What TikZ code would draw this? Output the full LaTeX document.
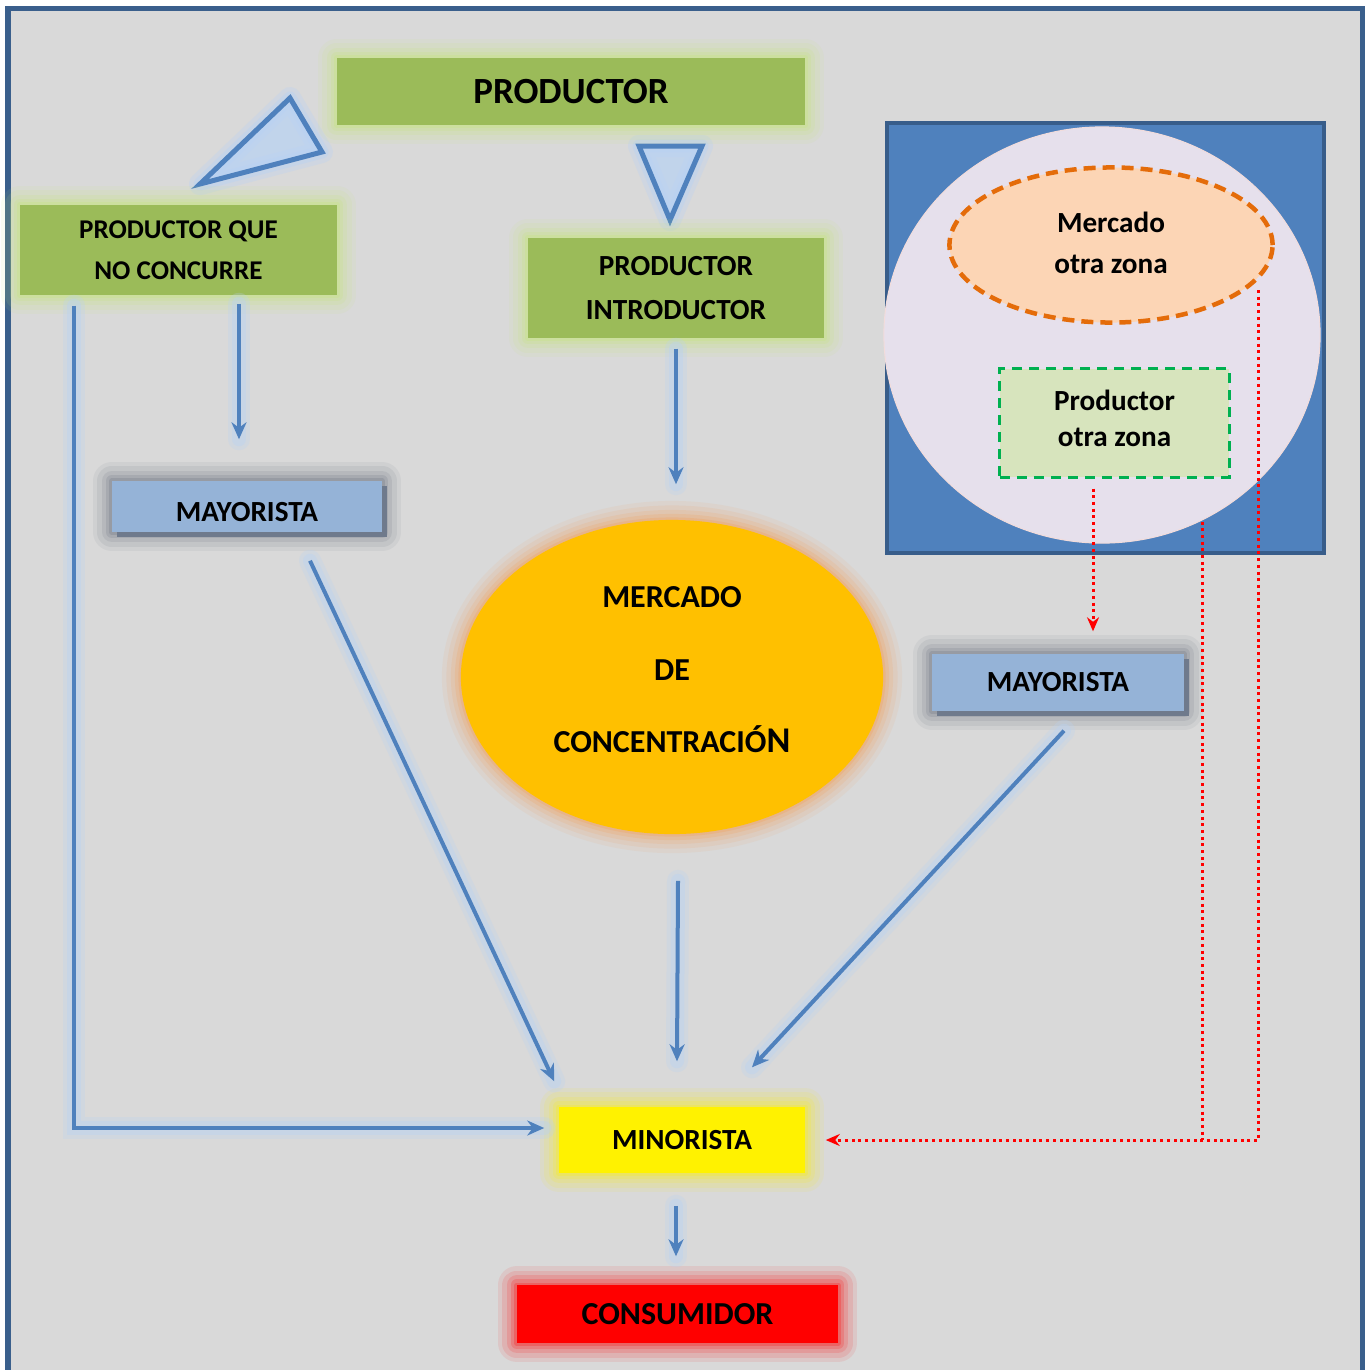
\documentclass[tikz,border=0pt]{standalone}
\usepackage{fontspec}
\setmainfont{Carlito}
\usetikzlibrary{arrows.meta,shapes.geometric,shadows}
\definecolor{bgc}{HTML}{D9D9D9}
\definecolor{framec}{HTML}{3A5F8C}
\definecolor{gfill}{HTML}{9BBB59}
\definecolor{gglow}{HTML}{C5E76F}
\definecolor{ablue}{HTML}{4F81BD}
\definecolor{bglow}{HTML}{B8D2F4}
\definecolor{mfill}{HTML}{95B3D7}
\definecolor{mshadow}{HTML}{6F7A8C}
\definecolor{mglow}{HTML}{5F6878}
\definecolor{ofill}{HTML}{FFC000}
\definecolor{oglow}{HTML}{F79646}
\definecolor{lav}{HTML}{E6E0EC}
\definecolor{lavb}{HTML}{F2DCDB}
\definecolor{peach}{HTML}{FCD5B5}
\definecolor{dorange}{HTML}{E46C0A}
\definecolor{pgreen}{HTML}{D7E4BD}
\definecolor{dgreen}{HTML}{00B050}
\definecolor{pdark}{HTML}{385D8A}
\tikzset{
  glow/.style={preaction={draw=#1, line width=0.38cm, opacity=0.08, line join=round},
               preaction={draw=#1, line width=0.29cm, opacity=0.10, line join=round},
               preaction={draw=#1, line width=0.20cm, opacity=0.13, line join=round},
               preaction={draw=#1, line width=0.12cm, opacity=0.17, line join=round},
               preaction={draw=#1, line width=0.05cm, opacity=0.22, line join=round}},
  gbox/.style={fill=gfill, inner sep=0pt, align=center, glow=gglow},
  mbox/.style={fill=mfill, inner sep=0pt, align=center, glow=mglow,
               drop shadow={shadow xshift=0.05cm, shadow yshift=-0.05cm, fill=mshadow, opacity=1}},
  barrow/.style={draw=ablue, line width=0.04cm, -{Stealth[length=0.17cm, width=0.15cm]},
                 preaction={draw=bglow, line width=0.22cm, opacity=0.25, -, line cap=round},
                 preaction={draw=bglow, line width=0.14cm, opacity=0.35, -, line cap=round}},
  rarrow/.style={draw=red, line width=0.03cm, dash pattern=on 0.03cm off 0.037cm},
  rtip/.style={-{Stealth[length=0.14cm, width=0.12cm]}},
  tri/.style={draw=ablue, line width=0.05cm, line join=miter, fill=bglow, fill opacity=0.7,
              preaction={draw=bglow, line width=0.22cm, opacity=0.3, line join=round},
              preaction={draw=bglow, line width=0.13cm, opacity=0.4, line join=round}},
  txt/.style={font=\fontsize{8.3}{11.7}\selectfont\bfseries}
}
\begin{document}
\begin{tikzpicture}[x=0.01cm,y=-0.01cm]
\useasboundingbox (0,0) rectangle (1370,1369);
\fill[white] (0,0) rectangle (1370,1369);
\draw[framec, line width=0.05cm, fill=bgc] (8,8.5) rectangle (1362,1390);

% right panel
\draw[pdark, line width=0.04cm, fill=ablue] (887,123) rectangle (1324,553);
\node[ellipse, draw=lavb, line width=0.01cm, fill=lav, minimum width=4.36cm, minimum height=4.16cm, inner sep=0pt] (zone) at (1102,335) {};
\node[ellipse, draw=dorange, line width=0.045cm, dash pattern=on 0.12cm off 0.07cm, fill=peach,
      minimum width=3.23cm, minimum height=1.55cm, inner sep=0pt, align=center, txt, text depth=0.05cm] (merz) at (1111,245) {Mercado\\otra zona};
\node[rectangle, draw=dgreen, line width=0.03cm, dash pattern=on 0.1cm off 0.07cm, fill=pgreen,
      minimum width=2.29cm, minimum height=1.08cm, inner sep=0pt, align=center, text depth=0.1cm,
      font=\fontsize{8.3}{10.3}\selectfont\bfseries] (poz) at (1114.5,423) {Productor\\otra zona};

% triangles
\draw[tri] (290,98) -- (322,152) -- (200,184) -- cycle;
\draw[tri] (639,146) -- (702,146) -- (670,220) -- cycle;

% boxes
\node[gbox, minimum width=4.68cm, minimum height=0.67cm, font=\fontsize{10.5}{12}\selectfont\bfseries] (prod) at (571,91.5) {PRODUCTOR};
\node[gbox, minimum width=3.17cm, minimum height=0.9cm, font=\fontsize{7.7}{10.8}\selectfont\bfseries] (pqnc) at (178.5,250) {PRODUCTOR QUE\\[0.03cm]NO CONCURRE};
\node[gbox, minimum width=2.96cm, minimum height=1.0cm, font=\fontsize{8.3}{11.7}\selectfont\bfseries] (pint) at (676,288) {PRODUCTOR\\[0.03cm]INTRODUCTOR};
\node[mbox, minimum width=2.70cm, minimum height=0.51cm, txt, text height=0.29cm, text depth=0cm] (mayL) at (247,506.5) {MAYORISTA};
\node[mbox, minimum width=2.52cm, minimum height=0.57cm, txt] (mayR) at (1058,682.5) {MAYORISTA};
\node[ellipse, fill=ofill, glow=oglow, minimum width=4.22cm, minimum height=3.14cm, inner sep=0pt, align=center,
      text depth=0.15cm, font=\fontsize{9.1}{20.5}\selectfont\bfseries] (merc) at (672,677) {MERCADO\\DE\\CONCENTRACIÓ{\fontsize{10.3}{12}\selectfont N}};
\node[fill=yellow, glow=yellow, minimum width=2.46cm, minimum height=0.66cm, inner sep=0pt, txt] (mino) at (682,1140) {MINORISTA};
\node[fill=red, glow=red, minimum width=3.21cm, minimum height=0.58cm, inner sep=0pt, font=\fontsize{9.1}{11}\selectfont\bfseries] (cons) at (677.5,1314) {CONSUMIDOR};

% blue arrows
\draw[barrow] ([shift={(55,10)}]pqnc.south west) |- ([shift={(-14,-12)}]mino.west);
\draw[barrow] ([shift={(60.5,8)}]pqnc.south) -- ([shift={(-8,-41)}]mayL.north);
\draw[barrow] ([shift={(0,10)}]pint.south) -- ([shift={(4,-35)}]merc.north);
\draw[barrow] ([shift={(63,28)}]mayL.south) -- ([shift={(-4,-25)}]mino.north west);
\draw[barrow] ([shift={(6,46)}]merc.south) -- ([shift={(-5,-45)}]mino.north);
\draw[barrow] ([shift={(6,19)}]mayR.south) -- ([shift={(70,-39)}]mino.north);
\draw[barrow] ([shift={(-6,32)}]mino.south) -- ([shift={(-1.5,-28)}]cons.north);

% red dotted arrows
\draw[rarrow, rtip] ([shift={(-21.5,10)}]poz.south) -- ([shift={(35,-22)}]mayR.north);
\coordinate (r3) at ([shift={(-28,43)}]poz.south east);
\draw[rarrow] (r3) -- (r3 |- mino.east);
\draw[rarrow, rtip] ([shift={(-16.5,45)}]merz.east) |- ([shift={(20,0)}]mino.east);
\end{tikzpicture}
\end{document}
